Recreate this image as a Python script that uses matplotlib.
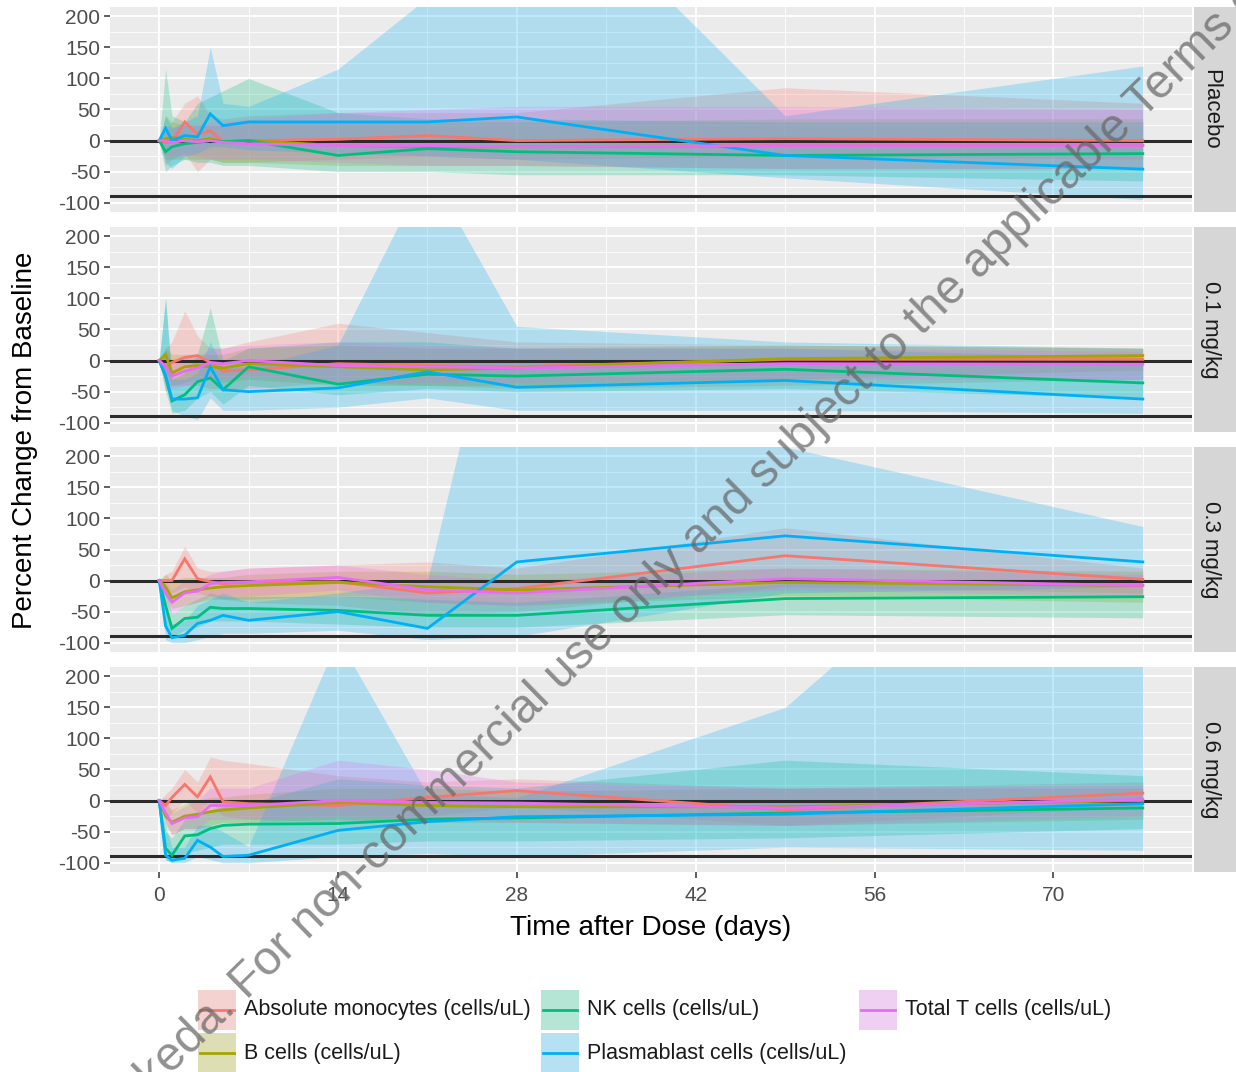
import numpy as np
import matplotlib
matplotlib.use("Agg")
import matplotlib.pyplot as plt
from matplotlib.patches import Rectangle
from matplotlib.textpath import TextPath
from matplotlib.font_manager import FontProperties

plt.rcParams['font.family'] = ['Liberation Sans', 'DejaVu Sans']
plt.rcParams['axes.unicode_minus'] = False

# ---------------- data ----------------
days = [0, 0.5, 1, 2, 3, 4, 5, 7, 14, 21, 28, 49, 77]
panels = ["Placebo", "0.1 mg/kg", "0.3 mg/kg", "0.6 mg/kg"]
series = ["Absolute monocytes (cells/uL)", "B cells (cells/uL)", "NK cells (cells/uL)",
          "Plasmablast cells (cells/uL)", "Total T cells (cells/uL)"]
colors = ["#F8766D", "#A3A500", "#00BF7D", "#00B0F6", "#E76BF3"]
y_ticks = [-100, -50, 0, 50, 100, 150, 200]
y_minor = [-75, -25, 25, 75, 125, 175]
x_ticks = [0, 14, 28, 42, 56, 70]
x_minor = [7, 21, 35, 49, 63, 77]
ref_lines = [0, -90]

# Placebo
pbo_mono    = [0, -3, -2, 30, 10, 16, -2, 0, 2, 8, 0, 3, 0]
pbo_mono_lo = [0, -40, -30, -20, -50, -30, -35, -35, -30, -25, -30, -25, -30]
pbo_mono_hi = [0, 20, 30, 60, 72, 40, 35, 40, 45, 45, 45, 85, 60]
pbo_b       = [0, 3, 5, 2, 0, 3, -2, 0, -8, -10, -10, -8, -8]
pbo_b_lo    = [0, -30, -30, -30, -30, -30, -35, -35, -40, -40, -40, -45, -45]
pbo_b_hi    = [0, 40, 30, 25, 25, 25, 25, 30, 30, 30, 30, 35, 35]
pbo_nk      = [0, -18, -10, -5, -3, 0, -2, 0, -24, -13, -18, -24, -21]
pbo_nk_lo   = [0, -50, -40, -30, -35, -35, -40, -40, -50, -50, -55, -55, -65]
pbo_nk_hi   = [0, 115, 40, 30, 60, 70, 80, 100, 45, 35, 35, 30, 30]
pbo_pb      = [0, 20, 0, 8, 6, 43, 24, 30, 30, 30, 38, -24, -46]
pbo_pb_lo   = [0, -35, -45, -25, -20, -10, -10, -15, -20, -25, -30, -60, -95]
pbo_pb_hi   = [0, 40, 20, 30, 40, 150, 60, 55, 115, 230, 470, 40, 120]
pbo_t       = [0, 0, -3, 0, -2, 0, -3, -5, -8, -8, -10, -8, -8]
pbo_t_lo    = [0, -25, -25, -25, -25, -30, -30, -30, -35, -40, -40, -45, -45]
pbo_t_hi    = [0, 20, 20, 25, 25, 30, 30, 35, 45, 50, 55, 55, 50]

# 0.1 mg/kg
d01_mono    = [0, -10, -3, 5, 8, -3, -17, -15, -5, -8, -10, 2, 2]
d01_mono_lo = [0, -50, -40, -40, -40, -45, -45, -45, -35, -40, -45, -40, -30]
d01_mono_hi = [0, 20, 30, 80, 40, 20, 20, 30, 60, 45, 30, 25, 20]
d01_b       = [0, 10, -20, -10, -8, -10, -12, -5, -10, -15, -12, 3, 8]
d01_b_lo    = [0, -20, -40, -35, -30, -30, -35, -30, -40, -40, -40, -30, -15]
d01_b_hi    = [0, 20, 10, 10, 10, 10, 10, 20, 25, 20, 20, 25, 20]
d01_nk      = [0, -25, -65, -55, -34, -28, -47, -10, -38, -22, -25, -14, -36]
d01_nk_lo   = [0, -50, -85, -80, -60, -50, -70, -40, -55, -45, -50, -45, -60]
d01_nk_hi   = [0, 100, -30, -20, 10, 85, 0, 20, 30, 30, 20, 20, 5]
d01_pb      = [0, -24, -62, -62, -60, -10, -47, -50, -44, -18, -43, -32, -62]
d01_pb_lo   = [0, -40, -80, -90, -95, -60, -80, -80, -75, -60, -80, -80, -85]
d01_pb_hi   = [0, 100, -30, -30, -20, 30, -10, -10, 25, 310, 55, 30, 20]
d01_t       = [0, -10, -25, -17, -12, -3, -5, 0, -8, -10, -12, -5, -6]
d01_t_lo    = [0, -25, -45, -40, -35, -30, -30, -25, -35, -35, -35, -30, -30]
d01_t_hi    = [0, 15, 0, 5, 5, 20, 20, 25, 30, 25, 20, 20, 15]

# 0.3 mg/kg
d03_mono    = [0, 0, 0, 35, 3, -2, -5, -3, -2, -20, -13, 40, 2]
d03_mono_lo = [0, -15, -20, -10, -20, -25, -30, -35, -40, -55, -50, -10, -20]
d03_mono_hi = [0, 10, 15, 55, 20, 15, 15, 20, 25, 30, 20, 85, 20]
d03_b       = [0, -10, -28, -18, -15, -12, -10, -8, -3, -10, -15, -3, -8]
d03_b_lo    = [0, -25, -45, -40, -35, -30, -30, -30, -25, -35, -40, -25, -35]
d03_b_hi    = [0, 10, 0, 5, 5, 5, 5, 10, 15, 15, 10, 20, 15]
d03_nk      = [0, -40, -77, -61, -59, -43, -45, -45, -48, -56, -56, -29, -26]
d03_nk_lo   = [0, -70, -90, -80, -75, -65, -65, -65, -70, -75, -75, -55, -60]
d03_nk_hi   = [0, -10, -55, -40, -30, -20, -25, -25, -25, -30, -35, -5, 0]
d03_pb      = [0, -73, -92, -88, -69, -64, -56, -64, -50, -77, 30, 72, 30]
d03_pb_lo   = [0, -95, -100, -100, -95, -90, -85, -85, -80, -95, -90, -20, -10]
d03_pb_hi   = [0, -40, -70, -65, -40, -30, -20, -35, -20, 0, 600, 215, 87]
d03_t       = [0, -20, -35, -20, -17, -5, -3, -2, 5, -15, -20, 3, -8]
d03_t_lo    = [0, -35, -55, -40, -35, -25, -25, -25, -15, -35, -40, -15, -25]
d03_t_hi    = [0, 0, -15, 0, 0, 10, 15, 20, 25, 10, 0, 20, 10]

# 0.6 mg/kg
d06_mono    = [0, -8, 5, 26, 6, 38, -2, -5, -8, 5, 16, -15, 12]
d06_mono_lo = [0, -30, -20, 0, -20, 0, -25, -30, -35, -25, -10, -40, -10]
d06_mono_hi = [0, 10, 20, 50, 30, 70, 65, 60, 40, 30, 35, 20, 30]
d06_b       = [0, -25, -35, -25, -22, -18, -15, -12, -3, -8, -10, -10, 0]
d06_b_lo    = [0, -40, -55, -45, -45, -40, -35, -35, -30, -35, -35, -40, -30]
d06_b_hi    = [0, -5, -15, -5, 0, 5, 5, 10, 20, 20, 15, 20, 20]
d06_nk      = [0, -77, -88, -57, -55, -45, -40, -38, -37, -30, -28, -20, -12]
d06_nk_lo   = [0, -95, -100, -85, -80, -75, -70, -70, -70, -65, -65, -60, -45]
d06_nk_hi   = [0, -50, -60, -30, -25, -15, -10, -5, 35, 25, 20, 65, 40]
d06_pb      = [0, -88, -96, -93, -64, -75, -90, -88, -48, -34, -26, -22, -5]
d06_pb_lo   = [0, -95, -100, -100, -90, -95, -100, -100, -90, -85, -90, -75, -80]
d06_pb_hi   = [0, -40, -75, -75, -40, -40, -50, -74, 261, 10, 5, 150, 650]
d06_t       = [0, -20, -37, -28, -26, -8, -8, -8, 0, -3, -4, -12, 2]
d06_t_lo    = [0, -35, -55, -45, -45, -30, -30, -30, -25, -30, -35, -40, -25]
d06_t_hi    = [0, 5, -20, -10, 0, 20, 20, 20, 65, 50, 30, 20, 25]

panel_data = [
    [(pbo_mono, pbo_mono_lo, pbo_mono_hi), (pbo_b, pbo_b_lo, pbo_b_hi), (pbo_nk, pbo_nk_lo, pbo_nk_hi),
     (pbo_pb, pbo_pb_lo, pbo_pb_hi), (pbo_t, pbo_t_lo, pbo_t_hi)],
    [(d01_mono, d01_mono_lo, d01_mono_hi), (d01_b, d01_b_lo, d01_b_hi), (d01_nk, d01_nk_lo, d01_nk_hi),
     (d01_pb, d01_pb_lo, d01_pb_hi), (d01_t, d01_t_lo, d01_t_hi)],
    [(d03_mono, d03_mono_lo, d03_mono_hi), (d03_b, d03_b_lo, d03_b_hi), (d03_nk, d03_nk_lo, d03_nk_hi),
     (d03_pb, d03_pb_lo, d03_pb_hi), (d03_t, d03_t_lo, d03_t_hi)],
    [(d06_mono, d06_mono_lo, d06_mono_hi), (d06_b, d06_b_lo, d06_b_hi), (d06_nk, d06_nk_lo, d06_nk_hi),
     (d06_pb, d06_pb_lo, d06_pb_hi), (d06_t, d06_t_lo, d06_t_hi)],
]

# ---------------- layout ----------------
W, H = 1236, 1072
fig = plt.figure(figsize=(W / 100, H / 100), dpi=100)


def fr(x0, y0, x1, y1):
    return [x0 / W, 1 - y1 / H, (x1 - x0) / W, (y1 - y0) / H]


panel_px = [(7, 212), (227, 432), (447, 652), (667, 872)]
tick_fs = 15
ribbon_alpha = 0.25

for i, (top, bot) in enumerate(panel_px):
    ax = fig.add_axes(fr(110, top, 1192, bot))
    ax.set_facecolor('#EBEBEB')
    ax.set_xlim(-3.85, 80.85)
    ax.set_ylim(-115, 215)
    ax.set_xticks(x_ticks)
    ax.set_xticks(x_minor, minor=True)
    ax.set_yticks(y_ticks)
    ax.set_yticks(y_minor, minor=True)
    ax.set_yticklabels([str(v) for v in y_ticks])
    ax.grid(True, which='major', color='white', lw=1.3)
    ax.grid(True, which='minor', color='white', lw=0.6)
    ax.set_axisbelow(True)
    for s in ax.spines.values():
        s.set_visible(False)
    ax.tick_params(which='major', length=4, width=1.1, color='#333333',
                   labelsize=tick_fs, labelcolor='#4D4D4D', pad=3)
    ax.tick_params(axis='x', which='major', pad=6)
    ax.tick_params(which='minor', length=0)
    if i < 3:
        ax.tick_params(axis='x', which='both', length=0, labelbottom=False)
    else:
        ax.set_xticklabels([str(v) for v in x_ticks])

    for (m, lo, hi), c in zip(panel_data[i], colors):
        ax.fill_between(days, lo, hi, color=c, alpha=ribbon_alpha, lw=0, zorder=2)
    for r in ref_lines:
        ax.axhline(r, color='#2B2B2B', lw=2.2, zorder=3)
    for (m, lo, hi), c in zip(panel_data[i], colors):
        ax.plot(days, m, color=c, lw=2.0, zorder=4, solid_joinstyle='miter')

    sx = fig.add_axes(fr(1194, top, 1236, bot))
    sx.set_facecolor('#D6D6D6')
    sx.set_xticks([])
    sx.set_yticks([])
    for s in sx.spines.values():
        s.set_visible(False)
    sx.text((1211 - 1194) / 42, 0.5, panels[i], rotation=-90, ha='center', va='center',
            fontsize=16, color='#1A1A1A', transform=sx.transAxes)

fig.text(25 / W, 1 - 440 / H, "Percent Change from Baseline", rotation=90,
         ha='center', va='center', fontsize=20, color='black')
fig.text(651 / W, 1 - 928 / H, "Time after Dose (days)",
         ha='center', va='center', fontsize=20, color='black')

# ---------------- overlay: legend + watermark ----------------
ov = fig.add_axes([0, 0, 1, 1], zorder=10)
ov.set_xlim(0, W)
ov.set_ylim(H, 0)
ov.axis('off')
ov.patch.set_visible(False)

key_x = [198, 541, 859]
key_y = [1010, 1053]
for k, (lab, c) in enumerate(zip(series, colors)):
    col, row = k // 2, k % 2
    x0, yc = key_x[col], key_y[row]
    ov.add_patch(Rectangle((x0, yc - 20), 38, 40, facecolor='#F2F2F2', edgecolor='none'))
    ov.add_patch(Rectangle((x0, yc - 20), 38, 40, facecolor=c, alpha=ribbon_alpha, edgecolor='none'))
    ov.plot([x0 + 2, x0 + 36], [yc, yc], color=c, lw=2.0)
    ov.text(x0 + 46, yc, lab, ha='left', va='center', fontsize=15.5, color='#1A1A1A')

fp = FontProperties(family='Liberation Sans')
wm_full = "Takeda. For non-commercial use only and subject to the applicable Terms of Use"
wm_vis = "eda. For non-commercial use only and subject to the applicable Terms"
p0 = np.array([162.0, 1066.0])
p1 = np.array([1224.0, 22.0])
L = np.hypot(*(p1 - p0))
w_vis = TextPath((0, 0), wm_vis, size=1, prop=fp).get_extents().width
fs_px = L / w_vis
w_pre = TextPath((0, 0), "Tak", size=1, prop=fp).get_extents().width * fs_px * 1.03
u = (p1 - p0) / L
start = p0 - u * w_pre
ang = np.degrees(np.arctan2(p0[1] - p1[1], p1[0] - p0[0]))
ov.text(start[0], start[1], wm_full, rotation=ang, rotation_mode='anchor',
        ha='left', va='center', fontsize=fs_px * 72 / 100, color='#666666', alpha=0.72,
        family='Liberation Sans')

fig.savefig("out.png", dpi=100)
